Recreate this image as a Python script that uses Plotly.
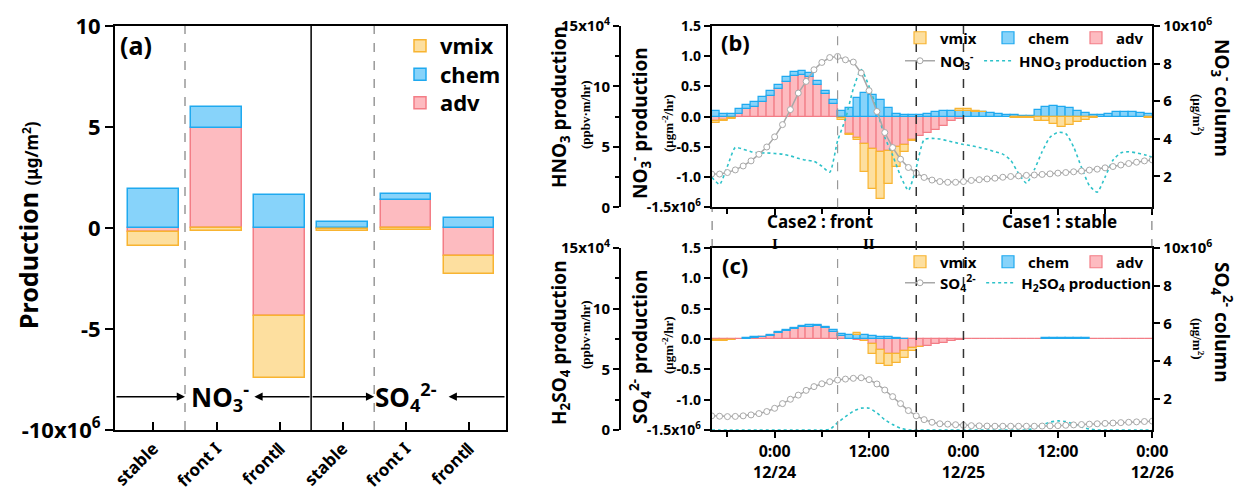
import numpy as np
import plotly.graph_objects as go

W, H = 1245, 492
FONT = "Noto Sans"
SERIF = "Liberation Serif"

# ---------------- panel (a): integrated production per period ----------------
cats_a = ["stable", "front I", "frontⅡ", "stable", "front I", "frontⅡ"]
adv_a = [-0.20, 4.93, -4.36, -0.07, 1.38, -1.37]
chem_a = [1.93, 1.04, 1.63, 0.31, 0.30, 0.49]
vmix_a = [-0.67, -0.15, -3.07, -0.06, -0.08, -0.91]

# ---------------- panels (b)/(c): hourly budget, 12/23 16:00 - 12/26 00:00 ----------------
# hours relative to 12/24 00:00
bar_hours = np.arange(-8, 48) + 0.5
line_hours = np.arange(-8, 49)
time_ticks = [0, 12, 24, 36, 48]
time_labels = ["0:00<br>12/24", "12:00", "0:00<br>12/25", "12:00", "0:00<br>12/26"]

chem_b = [0.10, 0.05, 0.05, 0.08, 0.07, 0.09, 0.07, 0.09, 0.07, 0.07, 0.06, 0.07, 0.06, 0.06,
          0.05, 0.06, 0.10, 0.14, 0.31, 0.39, 0.36, 0.28, 0.14, 0.04, 0.03, 0.02, 0.03, 0.05,
          0.08, 0.10, 0.10, 0.10, 0.10, 0.08, 0.07, 0.06, 0.04, 0.03, 0.02, 0.01, 0.01, 0.11,
          0.16, 0.18, 0.16, 0.14, 0.10, 0.06, 0.03, 0.02, 0.05, 0.08, 0.08, 0.07, 0.06, 0.05]
adv_b = [-0.08, -0.06, -0.03, 0.04, 0.12, 0.16, 0.25, 0.34, 0.46, 0.58, 0.68, 0.69, 0.66, 0.53,
         0.38, 0.21, -0.03, -0.28, -0.36, -0.46, -0.53, -0.58, -0.57, -0.51, -0.47, -0.39, -0.32, -0.27,
         -0.22, -0.16, -0.08, -0.04, -0.01, -0.01, -0.01, -0.01, -0.01, -0.01, -0.01, -0.01, -0.01, -0.01,
         -0.01, -0.01, -0.01, -0.01, -0.01, -0.01, -0.01, -0.01, -0.01, -0.01, -0.01, -0.01, -0.01, -0.01]
vmix_b = [-0.03, -0.02, -0.01, 0, 0, 0, 0, 0, 0, 0, 0, 0, 0, 0,
          0, 0, -0.02, -0.03, -0.02, -0.46, -0.66, -0.78, -0.55, -0.32, -0.12, -0.01, 0, 0,
          0, 0, 0, 0.02, 0.02, 0.02, 0.01, 0, 0, 0, -0.02, -0.02, -0.02, -0.06,
          -0.06, -0.11, -0.16, -0.12, -0.08, -0.04, -0.01, 0, 0, 0, 0, 0, 0, -0.01]
no3_col = [2.12, 2.12, 2.20, 2.34, 2.55, 2.82, 3.17, 3.56, 4.10, 4.75, 5.55, 6.43, 7.05, 7.67, 8.06,
           8.32, 8.38, 8.20, 8.08, 7.50, 6.56, 5.45, 4.33, 3.53, 2.91, 2.47, 2.17, 1.94, 1.80, 1.72,
           1.68, 1.68, 1.72, 1.78, 1.82, 1.86, 1.90, 1.95, 1.99, 2.02, 2.05, 2.07, 2.10, 2.13, 2.17,
           2.20, 2.24, 2.28, 2.33, 2.38, 2.45, 2.52, 2.60, 2.68, 2.75, 2.82, 2.87]
hno3_prod = [2.5, 1.9, 3.4, 4.95, 4.8, 4.6, 4.5, 4.5, 4.45, 4.4, 4.25, 4.05, 3.9, 3.8, 3.4,
             2.9, 5.5, 7.3, 9.8, 11.4, 10.0, 8.1, 5.8, 4.3, 2.6, 1.4, 3.3, 5.6, 5.7, 5.65,
             5.5, 5.35, 5.2, 5.1, 4.95, 4.8, 4.6, 4.4, 3.9, 2.8, 2.0, 3.1, 4.6, 5.8, 6.2,
             6.1, 5.0, 3.3, 1.8, 1.25, 2.5, 3.9, 4.5, 4.6, 4.5, 4.35, 4.15]

chem_c = [0, 0, 0, 0, 0.01, 0.01, 0.01, 0.015, 0.015, 0.015, 0.015, 0.02, 0.03, 0.015,
          0.02, 0.04, 0.025, 0.07, 0.07, 0.06, 0.045, 0.035, 0.03, 0.01, 0.005, 0, 0, 0,
          0, 0, 0, 0, 0, 0, 0, 0, 0, 0, 0, 0, 0, 0,
          0.01, 0.01, 0.01, 0.01, 0.01, 0.01, 0, 0, 0, 0, 0, 0, 0, 0]
adv_c = [-0.02, -0.02, -0.01, -0.005, 0.005, 0.02, 0.03, 0.055, 0.10, 0.14, 0.165, 0.19, 0.20, 0.21,
         0.18, 0.115, 0.055, -0.005, -0.01, -0.03, -0.09, -0.18, -0.25, -0.24, -0.20, -0.15, -0.13, -0.11,
         -0.09, -0.07, -0.04, -0.02, -0.005, -0.005, -0.005, -0.005, -0.005, -0.005, -0.005, -0.005, -0.005, -0.005,
         -0.005, -0.005, -0.005, -0.005, -0.005, -0.005, -0.005, -0.005, -0.005, -0.005, -0.005, -0.005, -0.005, -0.005]
vmix_c = [-0.015, -0.01, -0.005, 0, 0, 0, 0, 0, 0, 0, 0, 0, 0, 0,
          0, 0, 0, 0, 0.03, -0.01, -0.16, -0.23, -0.20, -0.16, -0.11, -0.05, -0.01, 0,
          0, 0, 0, 0, 0, 0, 0, 0, 0, 0, 0, 0, 0, 0,
          0, 0, 0, 0, 0, 0, 0, 0, 0, 0, 0, 0, 0, 0]
so4_col = [1.10, 1.08, 1.06, 1.07, 1.10, 1.15, 1.22, 1.33, 1.50, 1.75, 1.98, 2.20, 2.45, 2.65, 2.80,
           2.91, 3.00, 3.05, 3.09, 3.12, 3.02, 2.79, 2.47, 2.12, 1.75, 1.38, 1.10, 0.90, 0.76, 0.68,
           0.66, 0.63, 0.60, 0.58, 0.57, 0.56, 0.55, 0.55, 0.55, 0.55, 0.55, 0.55, 0.56, 0.57, 0.58,
           0.60, 0.62, 0.64, 0.66, 0.68, 0.70, 0.72, 0.74, 0.76, 0.78, 0.80, 0.82]
h2so4_prod = [0, 0, 0, 0, 0, 0, 0, 0, 0, 0, 0, 0, 0, 0, 0,
              0.05, 0.6, 1.1, 1.55, 1.8, 1.8, 1.4, 0.85, 0.45, 0.15, 0, 0, 0, 0, 0,
              0, 0, 0, 0, 0, 0, 0, 0, 0, 0, 0, 0.15, 0.4, 0.65, 0.75,
              0.7, 0.5, 0.25, 0.08, 0, 0, 0, 0, 0, 0, 0, 0]

# ---------------- styling ----------------
COLORS = {
    "vmix": ("#FDDF9F", "#F8B431"),
    "chem": ("#87D3FA", "#1FA9EF"),
    "adv": ("#FDBBC0", "#F37D86"),
}
GRAY_LINE = "#A8A8A8"
CYAN = "#2DC2C9"


def px(x):
    return x / W


def py(y):
    return 1 - y / H


def fnt(size, family=FONT, weight="bold", color="black"):
    return dict(family=family, size=size, weight=weight, color=color)


def skip_zero(vals):
    # hours with no contribution get no bar (so no outline is drawn on the zero line)
    return [v if v != 0 else None for v in vals]


fig = go.Figure()

# panel (a) stacked bars (adv first so it sits next to zero); one legend box per entry
legend_a = {"vmix": "legend", "chem": "legend6", "adv": "legend7"}
for name, vals in [("adv", adv_a), ("chem", chem_a), ("vmix", vmix_a)]:
    fill, edge = COLORS[name]
    fig.add_trace(go.Bar(
        x=list(range(1, 7)), y=vals, name=name, width=0.8,
        marker=dict(color=fill, line=dict(color=edge, width=1.5)),
        xaxis="x", yaxis="y", legend=legend_a[name],
    ))

# panels (b) and (c)
panels = [
    dict(xa="x2", ya="y2", yprod="y3", ycol="y4", bars=(adv_b, chem_b, vmix_b),
         col=no3_col, prod=hno3_prod, lg_bar="legend2", lg_line="legend3",
         col_name="NO<sub>3</sub><sup>-</sup>", prod_name="HNO<sub>3</sub> production"),
    dict(xa="x3", ya="y5", yprod="y6", ycol="y7", bars=(adv_c, chem_c, vmix_c),
         col=so4_col, prod=h2so4_prod, lg_bar="legend4", lg_line="legend5",
         col_name="SO<sub>4</sub><sup>2-</sup>", prod_name="H<sub>2</sub>SO<sub>4</sub> production"),
]
for p in panels:
    for name, vals in zip(["adv", "chem", "vmix"], p["bars"]):
        fill, edge = COLORS[name]
        fig.add_trace(go.Bar(
            x=bar_hours, y=skip_zero(vals), name=name, width=1.0,
            marker=dict(color=fill, line=dict(color=edge, width=1.2)),
            xaxis=p["xa"], yaxis=p["ya"], legend=p["lg_bar"],
        ))
    fig.add_trace(go.Scatter(
        x=line_hours, y=p["col"], name=p["col_name"], mode="lines+markers",
        line=dict(color=GRAY_LINE, width=1.5),
        marker=dict(symbol="circle", size=6, color="white", line=dict(color=GRAY_LINE, width=1)),
        xaxis=p["xa"], yaxis=p["ycol"], legend=p["lg_line"],
    ))
    fig.add_trace(go.Scatter(
        x=line_hours, y=p["prod"], name=p["prod_name"], mode="lines",
        line=dict(color=CYAN, width=1.6, dash="dot", shape="spline", smoothing=0.6),
        xaxis=p["xa"], yaxis=p["yprod"], legend=p["lg_line"],
    ))

axis_common = dict(showline=True, linecolor="black", linewidth=2, showgrid=False, zeroline=False,
                   ticks="outside", tickcolor="black", tickwidth=2, automargin=False)

dom_a_x = [px(115), px(506)]
dom_a_y = [py(430), py(26)]
dom_t_x = [px(711.7), px(1152.3)]
dom_b_y = [py(207.3), py(26)]
dom_c_y = [py(430), py(248)]

layout = dict(
    width=W, height=H, margin=dict(l=0, r=0, t=0, b=0, autoexpand=False),
    paper_bgcolor="white", plot_bgcolor="rgba(0,0,0,0)",
    barmode="relative", bargap=0, showlegend=True,
    font=dict(family=FONT, color="black"),
    xaxis=dict(axis_common, domain=dom_a_x, anchor="y", range=[0.39, 6.59],
               tickvals=list(range(1, 7)), ticktext=cats_a, tickangle=-45,
               ticks="inside", ticklen=8, mirror=True, tickfont=fnt(17)),
    yaxis=dict(axis_common, domain=dom_a_y, anchor="x", range=[-10, 10],
               tickvals=[-10, -5, 0, 5, 10],
               ticktext=["-10x10<sup>6</sup>", "-5", "0", "5", "10"],
               ticklen=8, mirror=True, tickfont=fnt(22)),
)

for xa, ya, yprod, ycol, dom_y, labels in [
    ("xaxis2", "yaxis2", "yaxis3", "yaxis4", dom_b_y, False),
    ("xaxis3", "yaxis5", "yaxis6", "yaxis7", dom_c_y, True),
]:
    ya_short = "y" + ya[5:]
    xa_short = "x" + xa[5:]
    layout[xa] = dict(axis_common, domain=dom_t_x, anchor=ya_short, range=[-8, 48],
                      tickvals=time_ticks, ticktext=time_labels, showticklabels=labels,
                      ticklen=6, mirror=True, tickfont=fnt(16),
                      minor=dict(dtick=6, tick0=0, ticks="outside", ticklen=5,
                                 tickwidth=2, tickcolor="black"))
    layout[ya] = dict(axis_common, domain=dom_y, anchor=xa_short, range=[-1.5, 1.5],
                      tickvals=[-1.5, -1.0, -0.5, 0, 0.5, 1.0, 1.5],
                      ticktext=["-1.5x10<sup>6</sup>", "-1.0", "-0.5", "0.0", "0.5", "1.0", "1.5"],
                      ticklen=6, mirror=True, tickfont=fnt(14))
    layout[yprod] = dict(axis_common, overlaying=ya_short, anchor="free", position=px(620),
                         side="left", range=[0, 15], tickvals=[0, 5, 10, 15],
                         ticktext=["0", "5", "10", "15x10<sup>4</sup>"], ticklen=6,
                         tickfont=fnt(15),
                         minor=dict(dtick=2.5, tick0=0, ticks="outside", ticklen=4,
                                    tickwidth=2, tickcolor="black"))
    layout[ycol] = dict(axis_common, overlaying=ya_short, anchor=xa_short, side="right",
                        range=[0.35, 10], tickvals=[2, 4, 6, 8, 10],
                        ticktext=["2", "4", "6", "8", "10x10<sup>6</sup>"], ticklen=6,
                        tickfont=fnt(15))

# legends
for key, yc in [("legend", 46), ("legend6", 74.5), ("legend7", 103)]:
    layout[key] = dict(x=px(400), y=py(yc), xanchor="left", yanchor="middle",
                       font=fnt(22), bgcolor="rgba(0,0,0,0)")
for key, yc in [("legend2", 38), ("legend4", 262)]:
    layout[key] = dict(orientation="h", x=px(900), y=py(yc), xanchor="left", yanchor="middle",
                       traceorder="reversed", font=fnt(15), bgcolor="rgba(0,0,0,0)",
                       entrywidth=43, entrywidthmode="pixels")
for key, yc in [("legend3", 61), ("legend5", 283)]:
    layout[key] = dict(orientation="h", x=px(900), y=py(yc), xanchor="left", yanchor="middle",
                       traceorder="normal", font=fnt(15), bgcolor="rgba(0,0,0,0)")

fig.update_layout(**layout)

# separators
shapes = []
for xv, color, dash in [(1.5, "#999999", "dash"), (3.5, "black", "solid"), (4.5, "#999999", "dash")]:
    shapes.append(dict(type="line", xref="x", yref="y", x0=xv, x1=xv, y0=-10, y1=10,
                       line=dict(color=color, width=1.5, dash=dash)))
for xr, yr in [("x2", "y2 domain"), ("x3", "y5 domain")]:
    shapes.append(dict(type="line", xref=xr, yref=yr, x0=8, x1=8, y0=0, y1=1,
                       line=dict(color="#999999", width=1.2, dash="dash")))
for xv in [18, 24]:
    shapes.append(dict(type="line", xref="x2", yref="paper", x0=xv, x1=xv, y0=py(430), y1=py(26),
                       line=dict(color="#333333", width=1.5, dash="dash")))
for xv in [-8, 48]:
    shapes.append(dict(type="line", xref="x2", yref="paper", x0=xv, x1=xv, y0=py(248), y1=py(207),
                       line=dict(color="#333333", width=1.5, dash="dash")))
fig.update_layout(shapes=shapes)

ann = []


def note(x, y, text, font, xref="paper", yref="paper", angle=0):
    ann.append(dict(x=x, y=y, xref=xref, yref=yref, text=text, showarrow=False, font=font,
                    textangle=angle, xanchor="center", yanchor="middle"))


# panel (a) labels and arrows
note(px(136), py(45), "(a)", fnt(25))
for head, tail in [(1.5, 0.39), (2.6, 3.5), (4.5, 3.5), (5.68, 6.59)]:
    ann.append(dict(x=head, y=-8.35, ax=tail, ay=-8.35, xref="x", yref="y", axref="x", ayref="y",
                    text="", showarrow=True, arrowhead=2, arrowsize=1.1, arrowwidth=1.5,
                    arrowcolor="black"))
note(2.05, -8.35, "NO<sub>3</sub><sup>-</sup>", fnt(26), "x", "y")
note(5.0, -8.35, "SO<sub>4</sub><sup>2-</sup>", fnt(26), "x", "y")
note(px(28), py(225), "Production <span style='font-size:17px'>(μg/m<sup>2</sup>)</span>",
     fnt(25), angle=-90)

# panel (b)/(c) tags
note(px(735), py(42), "(b)", fnt(22))
note(px(735), py(265), "(c)", fnt(22))

# left titles
for cx, cy, txt, f in [
    (560, 107, "HNO<sub>3</sub> production", fnt(19)),
    (585, 115, "(ppbv·m/hr)", fnt(13, SERIF)),
    (640, 123, "NO<sub>3</sub><sup>-</sup> production", fnt(19)),
    (668, 123, "(μgm<sup>-2</sup>/hr)", fnt(13, SERIF)),
    (560, 343, "H<sub>2</sub>SO<sub>4</sub> production", fnt(19)),
    (585, 335, "(ppbv·m/hr)", fnt(13, SERIF)),
    (640, 347, "SO<sub>4</sub><sup>2-</sup> production", fnt(19)),
    (668, 345, "(μgm<sup>-2</sup>/hr)", fnt(13, SERIF)),
]:
    note(px(cx), py(cy), txt, f, angle=-90)
# right titles
for cx, cy, txt, f in [
    (1222, 98, "NO<sub>3</sub><sup>-</sup> column", fnt(19)),
    (1198, 115, "(μg/m<sup>2</sup>)", fnt(13, SERIF)),
    (1222, 322, "SO<sub>4</sub><sup>2-</sup> column", fnt(19)),
    (1198, 339, "(μg/m<sup>2</sup>)", fnt(13, SERIF)),
]:
    note(px(cx), py(cy), txt, f, angle=90)

# case labels between (b) and (c)
note(px(820), py(222), "Case2 : front", fnt(17))
note(px(1059), py(222), "Case1 : stable", fnt(17))
for xv, txt in [(0, "I"), (12, "II")]:
    note(xv, py(244), txt, fnt(15, SERIF), xref="x3")

fig.update_layout(annotations=ann)

fig.write_html("out.html")
